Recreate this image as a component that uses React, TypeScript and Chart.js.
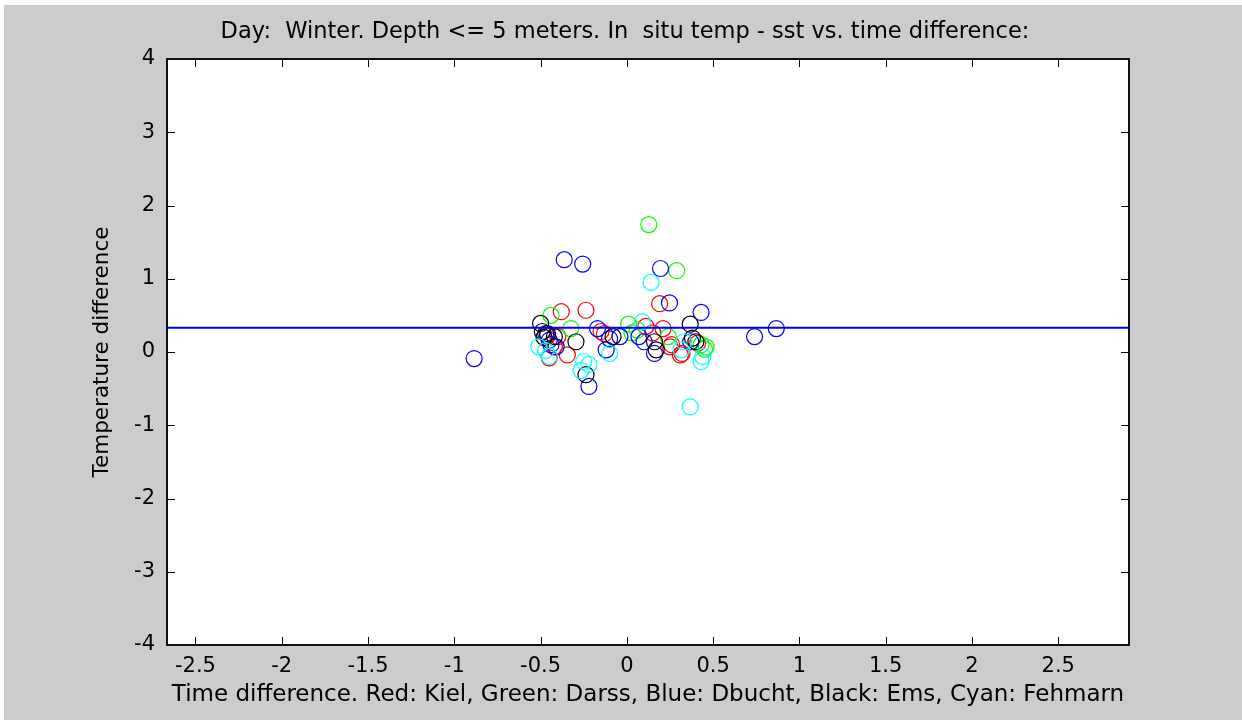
import React, { useEffect, useRef } from "react";
import { Chart, registerables } from "chart.js";
Chart.register(...registerables);

const TITLE = "Day:  Winter. Depth <= 5 meters. In  situ temp - sst vs. time difference:";
const X_LABEL = "Time difference. Red: Kiel, Green: Darss, Blue: Dbucht, Black: Ems, Cyan: Fehmarn";
const Y_LABEL = "Temperature difference";

const X_MIN = -2.665;
const X_MAX = 2.91;
const Y_MIN = -4;
const Y_MAX = 4;
const X_TICKS = [-2.5, -2, -1.5, -1, -0.5, 0, 0.5, 1, 1.5, 2, 2.5];
const Y_TICKS = [-4, -3, -2, -1, 0, 1, 2, 3, 4];
const MEAN_Y = 0.33;

// Red: Kiel
const kielX = [-0.38, -0.237, -0.46, -0.40, -0.345, -0.45, -0.42, -0.15, -0.13, 0.19, 0.11, 0.15, 0.21, 0.26, 0.25, 0.31, 0.41, 0.32];
const kielY = [0.55, 0.57, 0.22, 0.21, -0.04, -0.08, 0.07, 0.28, 0.25, 0.66, 0.35, 0.26, 0.32, 0.10, 0.07, -0.04, 0.12, -0.02];
// Green: Darss
const darssX = [-0.44, -0.325, 0.127, 0.289, 0.01, 0.06, 0.24, 0.43, 0.46, 0.03, 0.45];
const darssY = [0.50, 0.32, 1.74, 1.11, 0.38, 0.30, 0.21, 0.10, 0.07, 0.26, 0.04];
// Blue: Dbucht
const dbuchtX = [-0.885, -0.363, -0.256, -0.45, -0.41, -0.22, -0.17, -0.12, -0.10, 0.195, 0.247, 0.43, 0.07, 0.10, 0.16, 0.37, 0.74, 0.866, -0.04, -0.47, -0.44];
const dbuchtY = [-0.09, 1.26, 1.20, 0.16, 0.07, -0.47, 0.32, 0.03, 0.18, 1.14, 0.67, 0.54, 0.21, 0.14, -0.02, 0.14, 0.21, 0.32, 0.21, 0.25, 0.10];
// Black: Ems
const emsX = [-0.50, -0.49, -0.46, -0.42, -0.295, -0.237, -0.08, 0.367, 0.16, 0.17, 0.40, 0.38, -0.48];
const emsY = [0.39, 0.28, 0.25, 0.21, 0.14, -0.31, 0.21, 0.38, 0.14, 0.03, 0.14, 0.19, 0.20];
// Cyan: Fehmarn
const fehmarnX = [-0.51, -0.45, -0.25, -0.266, -0.22, -0.10, 0.14, 0.09, 0.367, 0.33, 0.315, 0.43, 0.44, -0.47];
const fehmarnY = [0.07, -0.06, -0.13, -0.25, -0.17, -0.02, 0.95, 0.41, -0.75, 0.14, 0.03, -0.13, -0.06, 0.02];

const FONT_FAMILY = "'DejaVu Sans', sans-serif";
const W = 1238;
const H = 715;

const pts = (xs: number[], ys: number[]) => xs.map((x, i) => ({ x, y: ys[i] }));

const framePlugin = {
  id: "matlabFrame",
  beforeDraw(chart: any) {
    const { ctx, chartArea: a } = chart;
    ctx.save();
    ctx.fillStyle = "#ffffff";
    ctx.fillRect(a.left, a.top, a.right - a.left, a.bottom - a.top);
    ctx.restore();
  },
  afterDraw(chart: any) {
    const { ctx, chartArea: a } = chart;
    const xs = chart.scales.x;
    const ys = chart.scales.y;
    const tl = 8;
    ctx.save();
    ctx.strokeStyle = "#000000";
    ctx.lineWidth = 1;
    ctx.beginPath();
    xs.ticks.forEach((t: any) => {
      const px = Math.round(xs.getPixelForValue(t.value)) + 0.5;
      ctx.moveTo(px, a.bottom);
      ctx.lineTo(px, a.bottom - tl);
      ctx.moveTo(px, a.top);
      ctx.lineTo(px, a.top + tl);
    });
    ys.ticks.forEach((t: any) => {
      const py = Math.round(ys.getPixelForValue(t.value)) + 0.5;
      ctx.moveTo(a.left, py);
      ctx.lineTo(a.left + tl, py);
      ctx.moveTo(a.right, py);
      ctx.lineTo(a.right - tl, py);
    });
    ctx.stroke();
    ctx.lineWidth = 2;
    ctx.strokeStyle = "#111111";
    ctx.strokeRect(a.left, a.top, a.right - a.left, a.bottom - a.top);
    // title
    ctx.fillStyle = "#000000";
    ctx.font = "22.5px " + FONT_FAMILY;
    ctx.textAlign = "center";
    ctx.textBaseline = "alphabetic";
    ctx.fillText(TITLE, 621, 33);
    ctx.restore();
  },
};

export default function App() {
  const ref = useRef<HTMLCanvasElement | null>(null);
  useEffect(() => {
    if (!ref.current) return;
    const mk = (label: string, data: any, color: string, order: number) => ({
      label,
      data,
      borderColor: color,
      backgroundColor: "rgba(0,0,0,0)",
      pointRadius: 8,
      pointBorderWidth: 1.2,
      pointStyle: "circle",
      showLine: false,
      order,
    });
    const chart = new Chart(ref.current, {
      type: "scatter",
      data: {
        datasets: [
          {
            label: "mean",
            data: [
              { x: X_MIN, y: MEAN_Y },
              { x: X_MAX, y: MEAN_Y },
            ],
            borderColor: "#0000ff",
            borderWidth: 2,
            pointRadius: 0,
            showLine: true,
            order: 0,
          } as any,
          mk("Kiel", pts(kielX, kielY), "#ff0000", 5),
          mk("Darss", pts(darssX, darssY), "#00ff00", 4),
          mk("Dbucht", pts(dbuchtX, dbuchtY), "#0000ff", 3),
          mk("Ems", pts(emsX, emsY), "#000000", 2),
          mk("Fehmarn", pts(fehmarnX, fehmarnY), "#00ffff", 1),
        ],
      },
      options: {
        animation: false,
        responsive: false,
        devicePixelRatio: 1,
        events: [],
        layout: { padding: { top: 54, right: 113, left: 0, bottom: 0 } },
        plugins: {
          legend: { display: false },
          tooltip: { enabled: false },
          title: { display: false },
        },
        scales: {
          x: {
            type: "linear",
            min: X_MIN,
            max: X_MAX,
            afterBuildTicks: (s: any) => {
              s.ticks = X_TICKS.map((v) => ({ value: v }));
            },
            afterFit: (s: any) => {
              s.height = 75;
            },
            grid: { display: false, drawTicks: false },
            border: { display: false },
            ticks: {
              padding: 9,
              color: "#000000",
              font: { family: FONT_FAMILY, size: 21 },
              maxRotation: 0,
              autoSkip: false,
              callback: (v: any) => String(v),
            },
            title: {
              display: true,
              text: X_LABEL,
              color: "#000000",
              font: { family: FONT_FAMILY, size: 23 },
              padding: { top: 0, bottom: 11 },
            },
          },
          y: {
            type: "linear",
            min: Y_MIN,
            max: Y_MAX,
            afterBuildTicks: (s: any) => {
              s.ticks = Y_TICKS.map((v) => ({ value: v }));
            },
            afterFit: (s: any) => {
              s.width = 163;
            },
            grid: { display: false, drawTicks: false },
            border: { display: false },
            ticks: {
              padding: 12,
              color: "#000000",
              font: { family: FONT_FAMILY, size: 21 },
              autoSkip: false,
              callback: (v: any) => String(v),
            },
            title: {
              display: true,
              text: Y_LABEL,
              color: "#000000",
              font: { family: FONT_FAMILY, size: 21.5 },
              padding: { top: 86, bottom: 0 },
            },
          },
        },
      },
      plugins: [framePlugin],
    } as any);
    return () => chart.destroy();
  }, []);
  return (
    <div style={{ position: "absolute", left: 0, top: 0, width: 1242, height: 720, background: "#ffffff" }}>
      <canvas
        ref={ref}
        width={W}
        height={H}
        style={{ position: "absolute", left: 4, top: 5, width: W, height: H, background: "#cccccc" }}
      />
    </div>
  );
}
